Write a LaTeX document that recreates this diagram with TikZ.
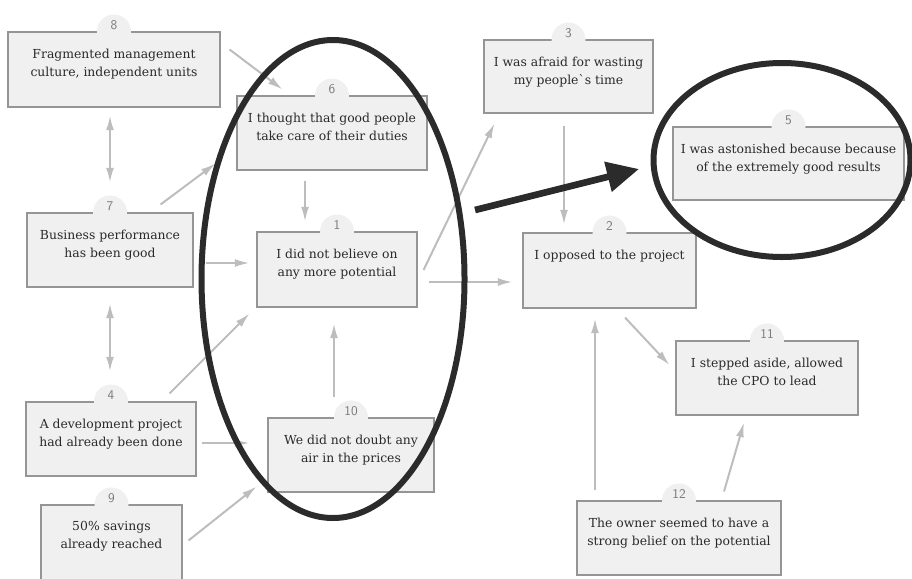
\documentclass[tikz,border=0pt]{standalone}
\usepackage{fontspec}
\setmainfont{DejaVu Serif}
\usetikzlibrary{arrows.meta,fit,shapes.geometric}

\definecolor{cardfill}{HTML}{F0F0F0}
\definecolor{cardline}{HTML}{959595}
\definecolor{cardtext}{HTML}{2A2A2A}
\definecolor{numgray}{HTML}{7A7A7A}
\definecolor{linkgray}{HTML}{BDBDBD}
\definecolor{ringblack}{HTML}{2B2B2B}

\tikzset{
  gtip/.tip={Latex[length=11pt,width=6pt]},
  card/.style={draw=cardline, fill=cardfill, line width=0.8pt, inner sep=0pt},
  cardtxt/.style={anchor=north, align=center, inner sep=0pt, text=cardtext,
    font=\fontsize{9.3}{13.5}\selectfont},
  badge/.style={circle, fill=cardfill, minimum size=25.5pt, inner sep=0pt,
    label={[numtxt]center:#1}},
  numtxt/.style={text=numgray, font=\sffamily\fontsize{10}{11}\selectfont, yshift=5pt},
  link/.style={draw=linkgray, line width=1.5pt, -gtip},
  ring/.style={ellipse, draw=ringblack, line width=4.5pt, inner sep=0pt},
}

\begin{document}
\begin{tikzpicture}[x=0.75pt, y=-0.75pt]
      \useasboundingbox (0,0) rectangle (912,578);
      \clip (0,0) rectangle (912,578);
      % cards
      \node[card, fit={(8,32) (220,107)}]   (n8)  {};
      \node[card, fit={(237,96) (427,170)}] (n6)  {};
      \node[card, fit={(27,213) (193,287)}] (n7)  {};
      \node[card, fit={(257,232) (417,307)}] (n1) {};
      \node[card, fit={(484,40) (653,113)}] (n3)  {};
      \node[card, fit={(673,127) (904,200)}] (n5) {};
      \node[card, fit={(523,233) (696,308)}] (n2) {};
      \node[card, fit={(676,341) (858,415)}] (n11) {};
      \node[card, fit={(577,501) (781,575)}] (n12) {};
      \node[card, fit={(26,402) (196,476)}] (n4)  {};
      \node[card, fit={(268,418) (434,492)}] (n10) {};
      \node[card, fit={(41,505) (182,590)}] (n9)  {};
      % texts
      \node[cardtxt] (t8)  at ([shift={(0,17)}]n8.north)  {Fragmented management\\culture, independent units};
      \node[cardtxt] (t6)  at ([shift={(0,17)}]n6.north)  {I thought that good people\\take care of their duties};
      \node[cardtxt] (t7)  at ([shift={(0,17)}]n7.north)  {Business performance\\has been good};
      \node[cardtxt] (t1)  at ([shift={(0,17)}]n1.north)  {I did not believe on\\any more potential};
      \node[cardtxt] (t3)  at ([shift={(0,17)}]n3.north)  {I was afraid for wasting\\my people\textasciigrave s time};
      \node[cardtxt] (t5)  at ([shift={(0,17)}]n5.north)  {I was astonished because because\\of the extremely good results};
      \node[cardtxt] (t2)  at ([shift={(0,17)}]n2.north)  {I opposed to the project};
      \node[cardtxt] (t11) at ([shift={(0,17)}]n11.north) {I stepped aside, allowed\\the CPO to lead};
      \node[cardtxt] (t12) at ([shift={(0,17)}]n12.north) {The owner seemed to have a\\strong belief on the potential};
      \node[cardtxt] (t4)  at ([shift={(0,17)}]n4.north)  {A development project\\had already been done};
      \node[cardtxt] (t10) at ([shift={(0,17)}]n10.north) {We did not doubt any\\air in the prices};
      \node[cardtxt] (t9)  at ([shift={(0,17)}]n9.north)  {50\% savings\\already reached};
      % number badges
      \node[badge=8]  (b8)  at (n8.north)  {};
      \node[badge=6]  (b6)  at (n6.north)  {};
      \node[badge=7]  (b7)  at (n7.north)  {};
      \node[badge=1]  (b1)  at (n1.north)  {};
      \node[badge=3]  (b3)  at (n3.north)  {};
      \node[badge=5]  (b5)  at (n5.north)  {};
      \node[badge=2]  (b2)  at (n2.north)  {};
      \node[badge=11] (b11) at (n11.north) {};
      \node[badge=12] (b12) at (n12.north) {};
      \node[badge=4]  (b4)  at (n4.north)  {};
      \node[badge=10] (b10) at (n10.north) {};
      \node[badge=9]  (b9)  at (n9.north)  {};
      % links
      \draw[link] ([shift={(9,18)}]n8.north east) -- ([shift={(46,-6)}]n6.north west);
      \draw[link, gtip-gtip] ([shift={(-4,8)}]n8.south) -- ([shift={(0,-30)}]n7.north);
      \draw[link] ([shift={(-33,-8)}]n7.north east) -- ([shift={(-21,-7)}]n6.south west);
      \draw[link] ([shift={(-27,10)}]n6.south) -- ([shift={(-32,-10)}]n1.north);
      \draw[link] ([shift={(12,13)}]n7.east) -- ([shift={(-7,-6.5)}]n1.west);
      \draw[link, gtip-gtip] ([shift={(0,16)}]n7.south) -- ([shift={(-1,-30)}]n4.north);
      \draw[link] ([shift={(-27,-8)}]n4.north east) -- ([shift={(-7,6)}]n1.south west);
      \draw[link] ([shift={(5,4)}]n4.east) -- ([shift={(-18,-12)}]n10.west);
      \draw[link] ([shift={(6,36)}]n9.north east) -- ([shift={(-11,-6)}]n10.south west);
      \draw[link] ([shift={(-17,-20)}]n10.north) -- ([shift={(-3,16)}]n1.south);
      \draw[link] ([shift={(6,0.5)}]n1.east) -- ([shift={(11,10)}]n3.south west);
      \draw[link] ([shift={(11,12.5)}]n1.east) -- ([shift={(-10,11.5)}]n2.west);
      \draw[link] ([shift={(-4.5,12)}]n3.south) -- ([shift={(-45.5,-8)}]n2.north);
      \draw[link] ([shift={(15.5,9)}]n2.south) -- ([shift={(-6,-13)}]n11.west);
      \draw[link] ([shift={(-84,-10)}]n12.north) -- ([shift={(-14.5,10)}]n2.south);
      \draw[link] ([shift={(45,-9)}]n12.north) -- ([shift={(-23,7)}]n11.south);
      % highlight rings
      \node[ring, minimum width=197.25pt, minimum height=358.5pt] (e1) at (333,279) {};
      \node[ring, minimum width=192.75pt, minimum height=145.5pt] (e2) at (782,160) {};
      \draw[ringblack, line width=5pt, -{Triangle[length=24pt,width=22pt]}]
        ([shift={(7.5,-69)}]e1.east) -- ([shift={(-11.5,9)}]e2.west);
\end{tikzpicture}
\end{document}
